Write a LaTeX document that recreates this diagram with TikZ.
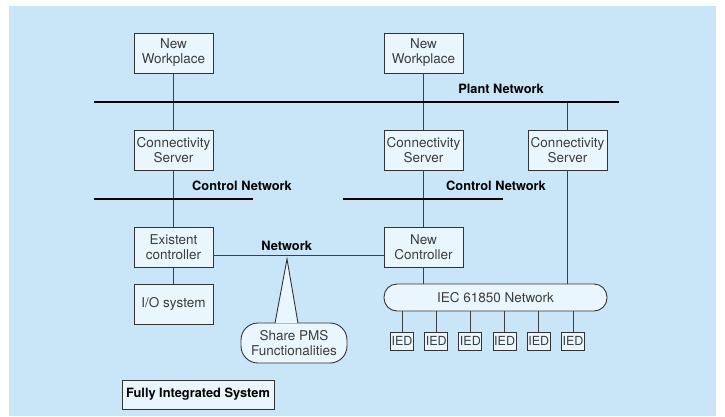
\documentclass[tikz,border=0pt]{standalone}
\usepackage{fontspec}
\setmainfont{TeX Gyre Heros}
\usepackage{xcolor}
\usepackage{tikz}
\definecolor{bgblue}{HTML}{C8E6F7}
\definecolor{boxblue}{HTML}{EAF6FD}
\definecolor{boxtext}{HTML}{3C3C3C}
\usetikzlibrary{positioning, calc}

\begin{document}
\begin{tikzpicture}[
    x=1pt, y=-1pt,
    node distance=97pt,
    unit/.style={rectangle, draw=black!80, line width=0.9pt, fill=boxblue, minimum width=79pt, minimum height=40pt, inner sep=1pt, align=center, text=boxtext, font=\fontsize{13.5}{15}\selectfont},
    ied/.style={rectangle, draw=black!80, line width=0.9pt, fill=boxblue, minimum width=23pt, minimum height=18pt, inner sep=0pt, text=boxtext, font=\fontsize{12.5}{13}\selectfont},
    bus/.style={line width=2.2pt},
    link/.style={draw=black!75, line width=1pt},
    netlabel/.style={font=\bfseries\fontsize{12.8}{14}\selectfont},
]
\useasboundingbox (0,0) rectangle (725,416);
\fill[bgblue] (9,6) rectangle (716,416);

% left column
\node[unit] (wpA) at (173.5,53) {New\\Workplace};
\node[unit, below of=wpA] (csA) {Connectivity\\Server};
\node[unit, below of=csA] (ctrlA) {Existent\\controller};
\node[unit, below of=ctrlA, node distance=57pt] (io) {I/O system};

% right columns
\node[unit] (wpB) at (423.5,53) {New\\Workplace};
\node[unit, below of=wpB] (csB) {Connectivity\\Server};
\node[unit, below of=csB] (ctrlB) {New\\Controller};
\node[unit] (csC) at (567.5,150) {Connectivity\\Server};

\node[rectangle, draw=black!80, line width=0.9pt, fill=boxblue, rounded corners=13pt, minimum width=223pt, minimum height=27pt, text=boxtext, font=\fontsize{13.5}{15}\selectfont] (iec) at (495.5,297.5) {IEC 61850 Network};

% bus ends
\coordinate (plantL) at (94,102);
\coordinate (plantR) at (619,102);
\coordinate (ctlAL) at (94,199);
\coordinate (ctlAR) at (253,199);
\coordinate (ctlBL) at (343,199);
\coordinate (ctlBR) at (503,199);

\draw[link] (wpA) -- (csA);
\draw[link] (csA) -- (ctrlA);
\draw[link] (ctrlA) -- (io);
\draw[link] (wpB) -- (csB);
\draw[link] (csB) -- (ctrlB);
\draw[link] (ctrlB.south) -- (ctrlB.south |- iec.north);
\draw[link] (csC.north) -- (csC.north |- plantL);
\draw[link] (csC.south) -- (csC.south |- iec.north);
\draw[link] ($(ctrlA.east)+(0,8)$) -- node[netlabel, pos=0.43, above=1pt, text=black] {Network} ($(ctrlB.west)+(0,8)$);

\draw[bus] (plantL) -- (plantR);
\draw[bus] (ctlAL) -- (ctlAR);
\draw[bus] (ctlBL) -- (ctlBR);
\node[netlabel] (plantlbl) at (501,89) {Plant Network};
\node[netlabel] (ctllblA) at (242,186) {Control Network};
\node[netlabel] (ctllblB) at (496,186) {Control Network};

% IEDs
\foreach \i in {1,...,6} {
  \node[ied] (ied\i) at ({402+34.2*(\i-1)},341) {IED};
  \draw[link] (ied\i.north) -- (ied\i.north |- iec.south);
}

% callout
\coordinate (tip) at (287,259);
\node[draw=black!80, line width=0.9pt, fill=boxblue, rounded corners=17pt, minimum width=106pt, minimum height=40pt, align=center, text=boxtext, font=\fontsize{13.5}{15}\selectfont] (share) at (294,343) {Share PMS\\Functionalities};
\filldraw[draw=black!80, line width=0.9pt, fill=boxblue] ($(share.north)+(-19,0.6)$) -- (tip) -- ($(share.north)+(4,0.6)$);

\node[draw=black!80, line width=0.9pt, fill=boxblue, minimum width=152pt, minimum height=29pt, font=\bfseries\fontsize{12.8}{14}\selectfont] (sysname) at (198,394.5) {Fully Integrated System};
\end{tikzpicture}
\end{document}
